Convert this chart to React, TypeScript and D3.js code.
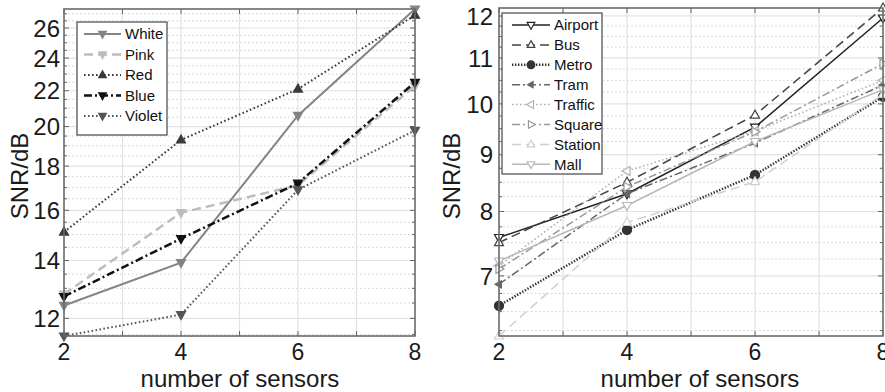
import React, { useEffect, useRef } from 'react';
import * as d3 from 'd3';

// number of sensors on the x axis
const sensors = [2, 4, 6, 8];
const xTickLabels = [2, 4, 6, 8];

// left panel: noise colours
const white = [12.42, 13.92, 20.6, 27.35];
const pink = [12.8, 15.9, 17.1, 22.3];
const red = [15.1, 19.3, 22.1, 26.9];
const blue = [12.72, 14.84, 17.2, 22.5];
const violet = [11.45, 12.12, 16.9, 19.8];
const leftTicks = [12, 14, 16, 18, 20, 22, 24, 26];

// right panel: real environments
const airport = [7.58, 8.3, 9.53, 11.95];
const bus = [7.5, 8.5, 9.77, 12.2];
const metro = [6.58, 7.7, 8.63, 10.15];
const tram = [6.88, 8.3, 9.22, 10.4];
const traffic = [7.15, 8.7, 9.45, 10.5];
const square = [7.1, 8.42, 9.44, 10.87];
const station = [6.18, 7.82, 8.51, 10.2];
const mall = [7.22, 8.1, 9.25, 10.3];
const rightTicks = [7, 8, 9, 10, 11, 12];

const FONT = '"Liberation Sans", Arial, sans-serif';

const DOT = '1.6,2.4';
const DASH = '9,5';
const DASHDOT = '8,3,2,3';

type Series = {
  name: string;
  values: number[];
  color: string;
  width: number;
  dash: string | null;
  marker: string;
  open?: boolean;
  size?: number;
};

const leftSeries: Series[] = [
  { name: 'White', values: white, color: '#848484', width: 2, dash: null, marker: 'down' },
  { name: 'Pink', values: pink, color: '#bdbdbd', width: 2.5, dash: DASH, marker: 'down' },
  { name: 'Red', values: red, color: '#3a3a3a', width: 2, dash: DOT, marker: 'up' },
  { name: 'Blue', values: blue, color: '#111', width: 2.5, dash: DASHDOT, marker: 'down' },
  { name: 'Violet', values: violet, color: '#555', width: 2, dash: DOT, marker: 'down' },
];

const rightSeries: Series[] = [
  { name: 'Airport', values: airport, color: '#222', width: 1.5, dash: null, marker: 'down', open: true },
  { name: 'Bus', values: bus, color: '#444', width: 1.5, dash: DASH, marker: 'up', open: true },
  { name: 'Metro', values: metro, color: '#333', width: 2.5, dash: '1.4,1.6', marker: 'circle' },
  { name: 'Tram', values: tram, color: '#666', width: 1.5, dash: DASHDOT, marker: 'left', size: 4 },
  { name: 'Traffic', values: traffic, color: '#b0b0b0', width: 1.5, dash: DOT, marker: 'left', open: true },
  { name: 'Square', values: square, color: '#999', width: 1.5, dash: DASHDOT, marker: 'right', open: true },
  { name: 'Station', values: station, color: '#d0d0d0', width: 1.5, dash: DASH, marker: 'up', open: true },
  { name: 'Mall', values: mall, color: '#b8b8b8', width: 1.5, dash: null, marker: 'down', open: true },
];

function markerPath(kind: string, s: number) {
  const h = s * 0.9;
  switch (kind) {
    case 'up': return `M0,${-s}L${h},${s * 0.6}L${-h},${s * 0.6}Z`;
    case 'down': return `M0,${s}L${h},${-s * 0.6}L${-h},${-s * 0.6}Z`;
    case 'left': return `M${-s},0L${s * 0.6},${h}L${s * 0.6},${-h}Z`;
    case 'right': return `M${s},0L${-s * 0.6},${h}L${-s * 0.6},${-h}Z`;
    default: return d3.symbol(d3.symbolCircle, s * s * 2.6)() as string;
  }
}

type Panel = {
  left: number; right: number; top: number; bottom: number;
  series: Series[];
  yTicks: number[];
  minorStep: number;
  labelGap: number;
  yLabelX: number;
  xLabelX: number;
  legend: { x: number; y: number; w: number; rowY: number; rowH: number; lineX0: number; lineX1: number; textX: number; h: number };
};

const panels: Panel[] = [
  {
    left: 64, right: 415, top: 9, bottom: 336,
    series: leftSeries, yTicks: leftTicks, minorStep: 0.5, labelGap: 4,
    yLabelX: 28, xLabelX: 240,
    legend: { x: 77, y: 22, w: 90, h: 113, rowY: 34, rowH: 20.5, lineX0: 84, lineX1: 121, textX: 125 },
  },
  {
    left: 499, right: 883, top: 8, bottom: 336,
    series: rightSeries, yTicks: rightTicks, minorStep: 0.25, labelGap: 6,
    yLabelX: 460, xLabelX: 700,
    legend: { x: 502, y: 13, w: 100, h: 161, rowY: 25, rowH: 19.9, lineX0: 512, lineX1: 550, textX: 554 },
  },
];

function drawPanel(svg: d3.Selection<SVGSVGElement, unknown, null, undefined>, p: Panel) {
  const all = p.series.flatMap(s => s.values);
  const [lo, hi] = d3.extent(all) as [number, number];
  const x = d3.scaleLinear().domain([2, 8]).range([p.left, p.right]);
  const y = d3.scaleLog().domain([lo, hi]).range([p.bottom, p.top]);

  const g = svg.append('g');

  g.append('rect')
    .attr('x', p.left).attr('y', p.top)
    .attr('width', p.right - p.left).attr('height', p.bottom - p.top)
    .attr('fill', '#fff');

  // minor grid (dotted)
  const minor = d3.range(Math.ceil(lo / p.minorStep) * p.minorStep, hi, p.minorStep)
    .filter(v => !p.yTicks.some(t => Math.abs(t - v) < 1e-6));
  g.append('g').selectAll('line').data(minor).join('line')
    .attr('x1', p.left).attr('x2', p.right)
    .attr('y1', d => y(d)).attr('y2', d => y(d))
    .attr('stroke', '#cfcfcf').attr('stroke-width', 1)
    .attr('stroke-dasharray', '1.5,2.5');

  // major grid
  g.append('g').selectAll('line').data(p.yTicks).join('line')
    .attr('x1', p.left).attr('x2', p.right)
    .attr('y1', d => y(d)).attr('y2', d => y(d))
    .attr('stroke', '#e2e2e2').attr('stroke-width', 1.2);
  const xGrid = d3.range(3, 8, 1);
  g.append('g').selectAll('line').data(xGrid).join('line')
    .attr('x1', d => x(d)).attr('x2', d => x(d))
    .attr('y1', p.top).attr('y2', p.bottom)
    .attr('stroke', '#e2e2e2').attr('stroke-width', 1.2);

  // tick marks inside the box
  const tk = g.append('g').attr('stroke', '#666').attr('stroke-width', 1);
  d3.range(2, 9, 1).forEach(v => {
    tk.append('line').attr('x1', x(v)).attr('x2', x(v)).attr('y1', p.bottom).attr('y2', p.bottom - 5);
    tk.append('line').attr('x1', x(v)).attr('x2', x(v)).attr('y1', p.top).attr('y2', p.top + 5);
  });
  p.yTicks.forEach(v => {
    tk.append('line').attr('x1', p.left).attr('x2', p.left + 5).attr('y1', y(v)).attr('y2', y(v));
    tk.append('line').attr('x1', p.right).attr('x2', p.right - 5).attr('y1', y(v)).attr('y2', y(v));
  });
  minor.forEach(v => {
    tk.append('line').attr('x1', p.left).attr('x2', p.left + 3).attr('y1', y(v)).attr('y2', y(v));
    tk.append('line').attr('x1', p.right).attr('x2', p.right - 3).attr('y1', y(v)).attr('y2', y(v));
  });

  // series
  const line = d3.line<number>().x((_, i) => x(sensors[i])).y(d => y(d));
  p.series.forEach(s => {
    g.append('path')
      .attr('d', line(s.values))
      .attr('fill', 'none')
      .attr('stroke', s.color)
      .attr('stroke-width', s.width)
      .attr('stroke-dasharray', s.dash);
    g.append('g').selectAll('path').data(s.values).join('path')
      .attr('transform', (d, i) => `translate(${x(sensors[i])},${y(d)})`)
      .attr('d', markerPath(s.marker, s.size ?? 5))
      .attr('fill', s.open ? '#fff' : s.color)
      .attr('stroke', s.color)
      .attr('stroke-width', 1.2);
  });

  // box
  g.append('rect')
    .attr('x', p.left).attr('y', p.top)
    .attr('width', p.right - p.left).attr('height', p.bottom - p.top)
    .attr('fill', 'none').attr('stroke', '#6a6a6a').attr('stroke-width', 1.6);

  // tick labels
  g.append('g').selectAll('text').data(p.yTicks).join('text')
    .attr('x', p.left - p.labelGap).attr('y', d => y(d)).attr('dy', '0.36em')
    .attr('text-anchor', 'end')
    .attr('font-family', FONT).attr('font-size', 24).attr('fill', '#1a1a1a')
    .text(d => d);
  g.append('g').selectAll('text').data(xTickLabels).join('text')
    .attr('x', d => x(d)).attr('y', 360)
    .attr('text-anchor', 'middle')
    .attr('font-family', FONT).attr('font-size', 23).attr('fill', '#1a1a1a')
    .text(d => d);

  // axis titles
  g.append('text')
    .attr('x', p.xLabelX).attr('y', 386.6)
    .attr('text-anchor', 'middle')
    .attr('font-family', FONT).attr('font-size', 24).attr('fill', '#1a1a1a')
    .text('number of sensors');
  g.append('text')
    .attr('transform', `translate(${p.yLabelX},176) rotate(-90)`)
    .attr('text-anchor', 'middle')
    .attr('font-family', FONT).attr('font-size', 24).attr('fill', '#1a1a1a')
    .text('SNR/dB');

  // legend
  const L = p.legend;
  const lg = g.append('g');
  lg.append('rect')
    .attr('x', L.x).attr('y', L.y).attr('width', L.w).attr('height', L.h)
    .attr('fill', '#fff').attr('stroke', '#555').attr('stroke-width', 1.3);
  p.series.forEach((s, i) => {
    const ry = L.rowY + i * L.rowH;
    lg.append('line')
      .attr('x1', L.lineX0).attr('x2', L.lineX1).attr('y1', ry).attr('y2', ry)
      .attr('stroke', s.color).attr('stroke-width', s.width)
      .attr('stroke-dasharray', s.dash);
    lg.append('path')
      .attr('transform', `translate(${(L.lineX0 + L.lineX1) / 2},${ry})`)
      .attr('d', markerPath(s.marker, (s.size ?? 5) * 0.85))
      .attr('fill', s.open ? '#fff' : s.color)
      .attr('stroke', s.color).attr('stroke-width', 1.2);
    lg.append('text')
      .attr('x', L.textX).attr('y', ry).attr('dy', '0.36em')
      .attr('font-family', FONT).attr('font-size', 15).attr('fill', '#111')
      .text(s.name);
  });
}

export default function App() {
  const ref = useRef<SVGSVGElement>(null);

  useEffect(() => {
    const svg = d3.select(ref.current!);
    svg.selectAll('*').remove();
    panels.forEach(p => drawPanel(svg, p));
  }, []);

  return (
    <svg
      ref={ref}
      width={885}
      height={392}
      style={{ position: 'absolute', left: 0, top: 0, background: '#fff' }}
    />
  );
}
